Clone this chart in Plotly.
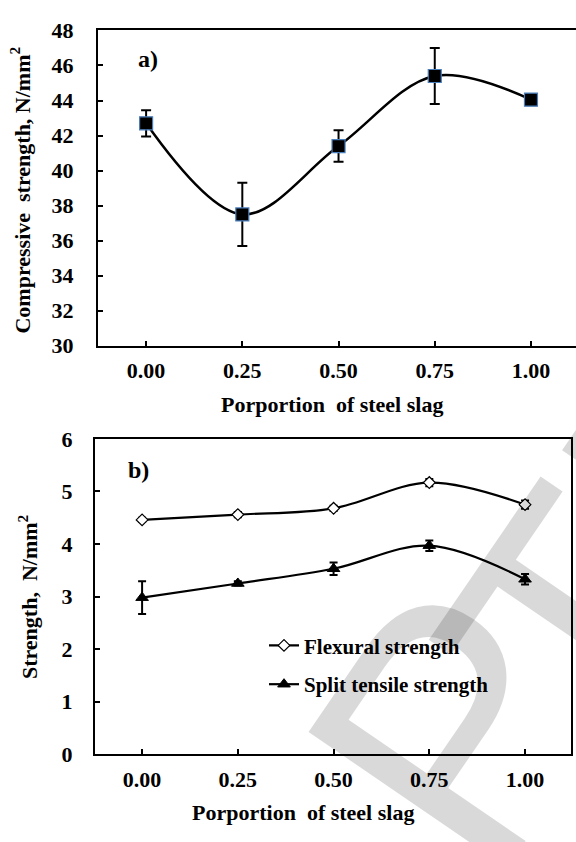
import plotly.graph_objects as go

# ---------------- data ----------------
proportion = [0.0, 0.25, 0.50, 0.75, 1.0]
tick_text = ["0.00", "0.25", "0.50", "0.75", "1.00"]

compressive = [42.7, 37.5, 41.4, 45.4, 44.05]
compressive_err = [0.75, 1.8, 0.9, 1.6, 0.3]

flexural = [4.46, 4.56, 4.68, 5.17, 4.75]
flexural_err = [0.04, 0.05, 0.05, 0.07, 0.08]

split_tensile = [2.98, 3.25, 3.53, 3.97, 3.33]
split_tensile_err = [0.31, 0.04, 0.12, 0.1, 0.1]

W, H = 576, 842
FONT = "Liberation Serif"

def px(x):
    return x / W

def py(y):
    return 1 - y / H

fig = go.Figure()

# Panel a
fig.add_trace(go.Scatter(
    x=proportion, y=compressive, mode="lines+markers",
    line=dict(color="black", width=2.5, shape="spline", smoothing=1.0),
    marker=dict(symbol="square", size=13, color="black",
                line=dict(color="#4a7ebb", width=1.2)),
    error_y=dict(type="data", array=compressive_err, color="black",
                 thickness=2, width=5),
    xaxis="x", yaxis="y", showlegend=False,
))

# Panel b
fig.add_trace(go.Scatter(
    x=proportion, y=flexural, mode="lines+markers", name="Flexural strength",
    line=dict(color="black", width=2.2, shape="spline", smoothing=1.0),
    marker=dict(symbol="diamond", size=9, color="white",
                line=dict(color="black", width=1.2)),
    error_y=dict(type="data", array=flexural_err, color="black",
                 thickness=2, width=4),
    xaxis="x2", yaxis="y2", legend="legend",
))
fig.add_trace(go.Scatter(
    x=proportion, y=split_tensile, mode="lines+markers", name="Split tensile strength",
    line=dict(color="black", width=2.2, shape="spline", smoothing=1.0),
    marker=dict(symbol="triangle-up", size=11, color="black",
                line=dict(color="black", width=1)),
    error_y=dict(type="data", array=split_tensile_err, color="black",
                 thickness=2, width=4),
    xaxis="x2", yaxis="y2", legend="legend2",
))

axis_common = dict(
    showline=True, linewidth=2, linecolor="black", showgrid=False, zeroline=False,
    ticks="inside", ticklen=5, tickwidth=1.5, tickcolor="black",
    tickfont=dict(family=FONT, size=22, color="black", weight="bold"),
)

legend_font = dict(family=FONT, size=21, color="black", weight="bold")

fig.update_layout(
    width=W, height=H, margin=dict(l=0, r=0, t=0, b=0),
    paper_bgcolor="white", plot_bgcolor="white",
    xaxis=dict(domain=[px(98), 1.0], range=[-0.125, 1.117],
               tickvals=proportion, ticktext=tick_text, mirror=True,
               ticklabelstandoff=4, anchor="y", **axis_common),
    yaxis=dict(domain=[py(344), py(19)], range=[30, 48], dtick=2,
               mirror=False, ticklabelstandoff=18, anchor="x", **axis_common),
    xaxis2=dict(domain=[px(95), px(571)], range=[-0.123, 1.12],
                tickvals=proportion, ticktext=tick_text, mirror=True,
                ticklabelstandoff=4, anchor="y2", **axis_common),
    yaxis2=dict(domain=[py(765), py(440)], range=[0, 6], dtick=1,
                mirror=True, ticklabelstandoff=16, anchor="x2", **axis_common),
    legend=dict(x=px(264), y=py(632), xanchor="left", yanchor="top",
                bgcolor="rgba(0,0,0,0)", itemwidth=30, font=legend_font),
    legend2=dict(x=px(264), y=py(672), xanchor="left", yanchor="top",
                 bgcolor="rgba(0,0,0,0)", itemwidth=30, font=legend_font),
)

ann_font = dict(family=FONT, size=22, color="black", weight="bold")

def ann(text, x, y, font, angle=0):
    return dict(text=text, x=px(x), y=py(y), xref="paper", yref="paper",
                xanchor="center", yanchor="middle", textangle=angle,
                showarrow=False, font=font)

wm_font = dict(family="Liberation Sans", size=350, color="rgba(0,0,0,0.15)")

annotations = [
    ann("a)", 148, 48, dict(family=FONT, size=24, color="black", weight="bold")),
    ann("b)", 138, 472, dict(family=FONT, size=24, color="black", weight="bold")),
    ann("Porportion  of steel slag", 332, 405, ann_font),
    ann("Porportion  of steel slag", 303, 825, ann_font),
    ann("Compressive  strength, N/mm<sup>2</sup>", 20, 184, ann_font, -90),
    ann("Strength,  N/mm<sup>2</sup>", 28, 603, ann_font, -90),
    # faint page watermark fragment (diagonal letters)
    ann("P", 456, 737, wm_font, -55.6),
    ann("T", 583, 632, wm_font, -55.6),
    ann("E", 710, 447, wm_font, -55.6),
]
fig.update_layout(annotations=annotations)

fig.write_html("out.html")
